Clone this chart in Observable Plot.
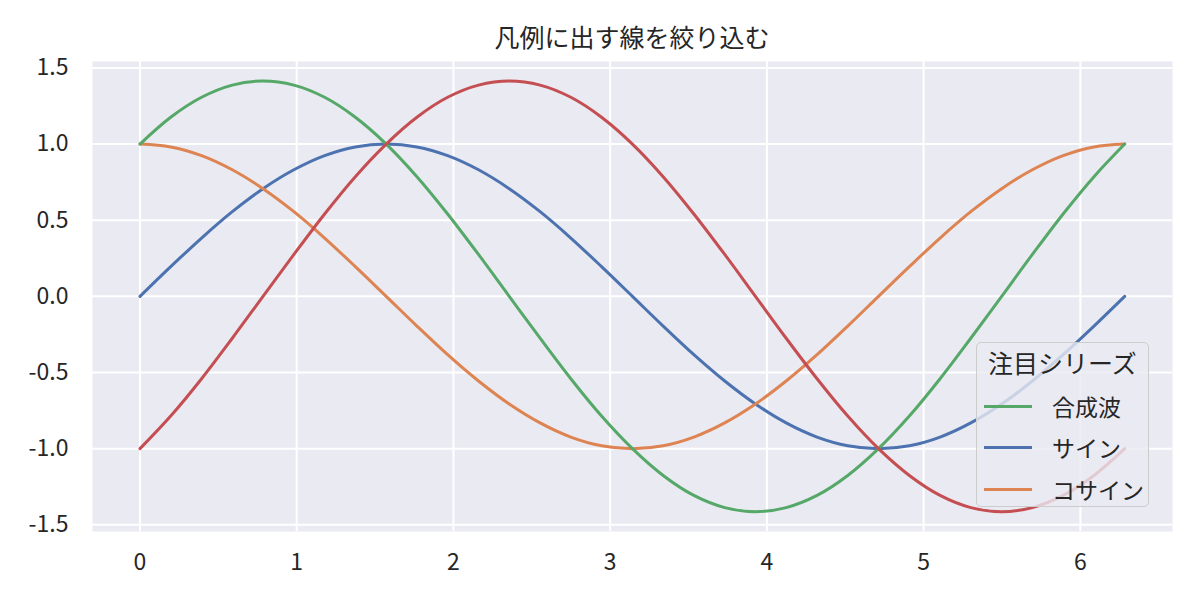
<!DOCTYPE html>
<html>
<head>
<meta charset="utf-8">
<script src="https://cdn.jsdelivr.net/npm/d3@7"></script>
<script src="https://cdn.jsdelivr.net/npm/@observablehq/plot@0.6"></script>
<style>
  html, body { margin: 0; padding: 0; background: #fff; }
  #wrap { position: relative; width: 1200px; height: 600px; font-family: "Noto Sans CJK JP", "Noto Sans", sans-serif; color: #262626; }
  #title { position: absolute; left: 92px; width: 1080px; top: 21px; height: 30px; line-height: 30px; text-align: center; font-size: 25px; }
  #legend { position: absolute; left: 976px; top: 342px; width: 171px; height: 163px; background: rgba(234,234,242,0.8); border: 1.5px solid #cccccc; border-radius: 5px; }
  #legend .lt { position: absolute; left: 0; width: 171px; text-align: center; font-size: 25px; height: 30px; line-height: 30px; }
  #legend .row { position: absolute; left: 0; height: 30px; width: 171px; }
  #legend .sw { position: absolute; left: 7px; width: 48px; height: 3px; top: 13.5px; }
  #legend .lb { position: absolute; left: 75px; font-size: 23px; line-height: 30px; height: 30px; top: 0; white-space: nowrap; }
</style>
</head>
<body>
<div id="wrap">
  <div id="chart"></div>
  <div id="title"></div>
  <div id="legend"></div>
</div>
<script>
// ---- data ----
const xs = [0, 0.196, 0.393, 0.589, 0.785, 0.982, 1.178, 1.374, 1.571, 1.767, 1.963, 2.160, 2.356, 2.553, 2.749, 2.945, 3.142, 3.338, 3.534, 3.731, 3.927, 4.123, 4.320, 4.516, 4.712, 4.909, 5.105, 5.301, 5.498, 5.694, 5.890, 6.087, 6.283];
const sineVals = [0, 0.195, 0.383, 0.556, 0.707, 0.831, 0.924, 0.981, 1, 0.981, 0.924, 0.831, 0.707, 0.556, 0.383, 0.195, 0, -0.195, -0.383, -0.556, -0.707, -0.831, -0.924, -0.981, -1, -0.981, -0.924, -0.831, -0.707, -0.556, -0.383, -0.195, 0];
const cosineVals = [1, 0.981, 0.924, 0.831, 0.707, 0.556, 0.383, 0.195, 0, -0.195, -0.383, -0.556, -0.707, -0.831, -0.924, -0.981, -1, -0.981, -0.924, -0.831, -0.707, -0.556, -0.383, -0.195, 0, 0.195, 0.383, 0.556, 0.707, 0.831, 0.924, 0.981, 1];
const sumVals = [1, 1.176, 1.307, 1.387, 1.414, 1.387, 1.307, 1.176, 1, 0.786, 0.541, 0.275, 0, -0.275, -0.541, -0.786, -1, -1.176, -1.307, -1.387, -1.414, -1.387, -1.307, -1.176, -1, -0.786, -0.541, -0.275, 0, 0.275, 0.541, 0.786, 1];
const diffVals = [-1, -0.786, -0.541, -0.275, 0, 0.275, 0.541, 0.786, 1, 1.176, 1.307, 1.387, 1.414, 1.387, 1.307, 1.176, 1, 0.786, 0.541, 0.275, 0, -0.275, -0.541, -0.786, -1, -1.176, -1.307, -1.387, -1.414, -1.387, -1.307, -1.176, -1];

const seriesNames = ["サイン", "コサイン", "合成波", "差分"];
const seriesColors = ["#4C72B0", "#DD8452", "#55A868", "#C44E52"];
const seriesValues = [sineVals, cosineVals, sumVals, diffVals];
const legendOrder = ["合成波", "サイン", "コサイン"];
const xTicks = [0, 1, 2, 3, 4, 5, 6];
const yTicks = [-1.5, -1.0, -0.5, 0.0, 0.5, 1.0, 1.5];
const titleText = "凡例に出す線を絞り込む";
const legendTitle = "注目シリーズ";

// ---- build table ----
const rows = [];
seriesNames.forEach((name, i) => {
  xs.forEach((x, j) => rows.push({ series: name, x, y: seriesValues[i][j] }));
});

const fontFamily = '"Noto Sans CJK JP", "Noto Sans", sans-serif';

const chart = Plot.plot({
  width: 1200,
  height: 600,
  marginLeft: 92,
  marginRight: 28,
  marginTop: 61,
  marginBottom: 69,
  style: { fontFamily, fontSize: "23px", color: "#262626", background: "white" },
  x: { domain: [-0.303, 6.588], ticks: xTicks },
  y: { domain: [-1.544, 1.542], ticks: yTicks },
  color: { domain: seriesNames, range: seriesColors },
  marks: [
    Plot.frame({ fill: "#EAEAF2", stroke: null }),
    Plot.gridX(xTicks, { stroke: "white", strokeOpacity: 1, strokeWidth: 2 }),
    Plot.gridY(yTicks, { stroke: "white", strokeOpacity: 1, strokeWidth: 2 }),
    Plot.axisX(xTicks, { tickSize: 0, tickPadding: 22, label: null, fontSize: 23, tickFormat: d => String(d) }),
    Plot.axisY(yTicks, { tickSize: 0, tickPadding: 24, label: null, fontSize: 23, tickFormat: d => d.toFixed(1) }),
    Plot.line(rows, { x: "x", y: "y", z: "series", stroke: "series", strokeWidth: 3, curve: "catmull-rom" })
  ]
});
document.getElementById("chart").appendChild(chart);

// ---- title ----
document.getElementById("title").textContent = titleText;

// ---- legend ----
const lg = document.getElementById("legend");
const lt = document.createElement("div");
lt.className = "lt";
lt.style.top = "4px";
lt.textContent = legendTitle;
lg.appendChild(lt);
const rowCenters = [63, 104, 146];
legendOrder.forEach((name, i) => {
  const r = document.createElement("div");
  r.className = "row";
  r.style.top = (rowCenters[i] - 15) + "px";
  const sw = document.createElement("div");
  sw.className = "sw";
  sw.style.background = seriesColors[seriesNames.indexOf(name)];
  const lb = document.createElement("div");
  lb.className = "lb";
  lb.textContent = name;
  r.appendChild(sw);
  r.appendChild(lb);
  lg.appendChild(r);
});
</script>
</body>
</html>
